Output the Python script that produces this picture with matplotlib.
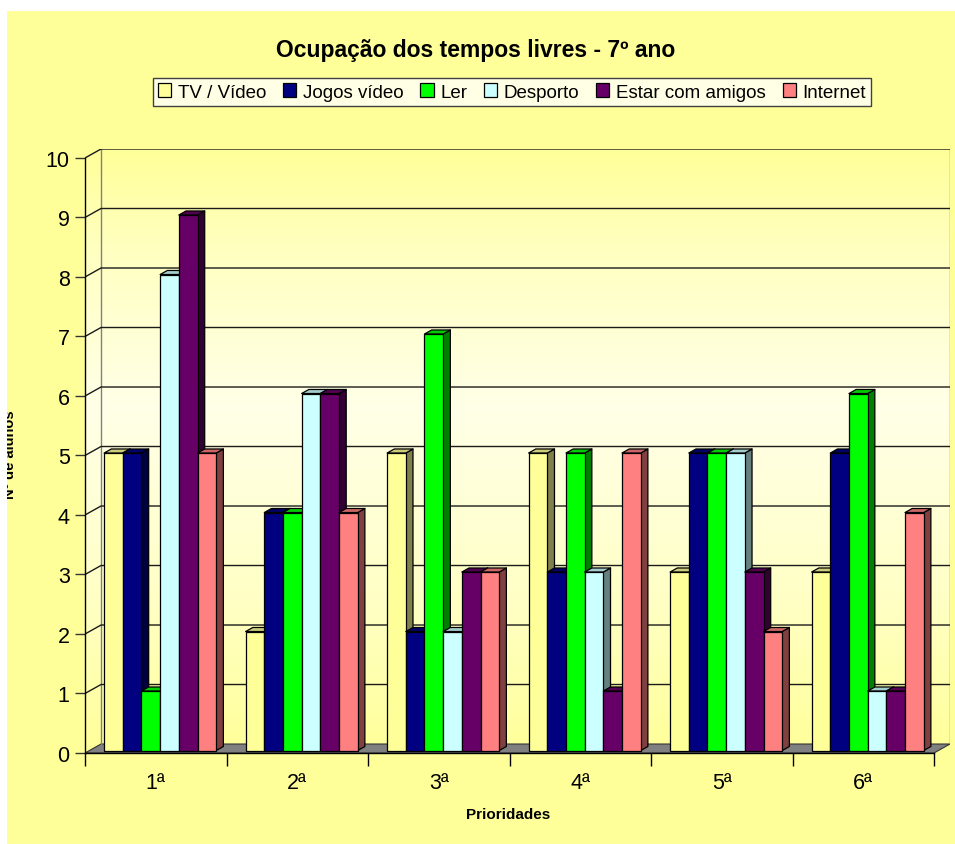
import matplotlib
matplotlib.use("Agg")
import matplotlib.pyplot as plt
import numpy as np
from matplotlib.patches import Polygon, Rectangle
from matplotlib.collections import PolyCollection
from matplotlib.colors import to_rgb
from matplotlib.transforms import Bbox

plt.rcParams['font.family'] = ['Liberation Sans', 'DejaVu Sans']

categories = ['1ª', '2ª', '3ª', '4ª', '5ª', '6ª']
series = ['TV / Vídeo', 'Jogos vídeo', 'Ler', 'Desporto', 'Estar com amigos', 'Internet']
tv = [5, 2, 5, 5, 3, 3]
jogos = [5, 4, 2, 3, 5, 5]
ler = [1, 4, 7, 5, 5, 6]
desporto = [8, 6, 2, 3, 5, 1]
amigos = [9, 6, 3, 1, 3, 1]
internet = [5, 4, 3, 5, 2, 4]
values = [tv, jogos, ler, desporto, amigos, internet]
colors = ['#FFFF99', '#000080', '#00FF00', '#CCFFFF', '#660066', '#FF8080']
yticks = list(range(11))

W, H = 955, 845
fig = plt.figure(figsize=(W / 100, H / 100), dpi=100, facecolor='white')
fig.patches.append(Rectangle((7 / W, 0), 1, 1 - 12 / H, transform=fig.transFigure,
                             facecolor='#FFFF99', edgecolor='none', zorder=-10))

# oblique 3D depth of the floor, in data units
DX = 16 / 141.5
DY = 9 / 59.6
ncat = len(categories)
ymax = 10

ax = fig.add_axes([85 / W, (H - 754) / H, 865 / W, (754 - 150) / H])
ax.set_facecolor('none')
ax.set_xlim(0, ncat + DX)
ax.set_ylim(0, ymax + DY)
for sp in ax.spines.values():
    sp.set_visible(False)

# walls with vertical gradient
stops_v = [0, 2.5, 5.8, 8.5, 10 + DY]
stops_c = ['#FFFF99', '#FFFFC4', '#FFFFE8', '#FFFFC0', '#FFFF99']
yy = np.linspace(0, ymax + DY, 300)
rgb = np.array([to_rgb(c) for c in stops_c])
grad = np.stack([np.interp(yy, stops_v, rgb[:, k]) for k in range(3)], axis=-1)[:, None, :]
wall = Polygon([(0, 0), (0, ymax), (DX, ymax + DY), (ncat + DX, ymax + DY),
                (ncat + DX, DY), (DX, DY)], closed=True, transform=ax.transData,
               facecolor='none', edgecolor='none')
ax.add_patch(wall)
im = ax.imshow(grad, extent=(0, ncat + DX, 0, ymax + DY), aspect='auto',
               origin='lower', interpolation='bilinear', zorder=0)
im.set_clip_path(wall)

# floor
ax.add_patch(Polygon([(0, 0), (ncat, 0), (ncat + DX, DY), (DX, DY)], closed=True,
                     facecolor='#808080', edgecolor='#333333', lw=0.8, zorder=1))

# gridlines on walls
for v in yticks[1:]:
    ax.plot([0, DX, ncat + DX], [v, v + DY, v + DY], color='#1a1a1a', lw=1, zorder=1.5)
ax.plot([DX, DX], [DY, ymax + DY], color='#808080', lw=1, zorder=1.4)
ax.plot([ncat + DX, ncat + DX], [DY, ymax + DY], color='#808080', lw=1, zorder=1.4)
ax.plot([0, 0], [0, ymax], color='black', lw=1, zorder=2, clip_on=False)
ax.plot([0, ncat], [0, 0], color='black', lw=1, zorder=2, clip_on=False)

# bars
w = 0.132
f_front = 0.275
bdx, bdy = 0.45 * DX, 0.45 * DY
x0 = np.arange(ncat) + 0.5 - 3 * w + f_front * DX
y0 = f_front * DY
handles = []
for s, (vals, col) in enumerate(zip(values, colors)):
    z = 3 + 0.1 * s
    xs = x0 + s * w
    base = np.array(to_rgb(col))
    sides, tops = [], []
    for x, v in zip(xs, vals):
        sides.append([(x + w, y0), (x + w + bdx, y0 + bdy),
                      (x + w + bdx, y0 + v + bdy), (x + w, y0 + v)])
        tops.append([(x, y0 + v), (x + bdx, y0 + v + bdy),
                     (x + w + bdx, y0 + v + bdy), (x + w, y0 + v)])
    ax.add_collection(PolyCollection(sides, facecolors=[base * 0.5], edgecolors='black',
                                     linewidths=0.9, zorder=z))
    ax.add_collection(PolyCollection(tops, facecolors=[base * 0.8], edgecolors='black',
                                     linewidths=0.9, zorder=z))
    b = ax.bar(xs, vals, width=w, bottom=y0, align='edge', color=col,
               edgecolor='black', lw=0.9, zorder=z, label=series[s])
    handles.append(b)

# axes ticks
ax.set_yticks(yticks)
ax.set_yticklabels([str(t) for t in yticks], fontsize=15.5)
ax.tick_params(axis='y', direction='out', length=7, width=1, color='#333333', pad=4)
ax.set_xticks(np.arange(ncat) + 0.5)
ax.set_xticklabels(categories, fontsize=15.5)
ax.set_xticks(np.arange(ncat + 1), minor=True)
ax.tick_params(axis='x', which='major', length=0, pad=14)
ax.tick_params(axis='x', which='minor', direction='out', length=9, width=1, color='black')

fig.text(476 / W, 1 - 50 / H, 'Ocupação dos tempos livres - 7º ano', ha='center',
         va='center', fontsize=16.5, fontweight='bold')
fig.text(508 / W, 1 - 815 / H, 'Prioridades', ha='center', va='center',
         fontsize=11, fontweight='bold')
yl = fig.text(10 / W, 1 - 455 / H, 'Nº de alunos', ha='center', va='center',
              rotation=90, fontsize=10.5, fontweight='bold', clip_on=True)
yl.set_clip_box(Bbox([[7, 0], [W, H]]))

leg = fig.legend(handles, series, ncol=6, loc='center',
                 bbox_to_anchor=(512 / W, 1 - 93 / H), frameon=True, fancybox=False,
                 edgecolor='#404040', facecolor='#FFFFE6', framealpha=1, fontsize=13.5,
                 handlelength=0.7, handleheight=0.7, handletextpad=0.35,
                 columnspacing=0.9, borderpad=0.3, borderaxespad=0)
leg.get_frame().set_linewidth(1)

fig.savefig('out.png', dpi=100, facecolor=fig.get_facecolor())
